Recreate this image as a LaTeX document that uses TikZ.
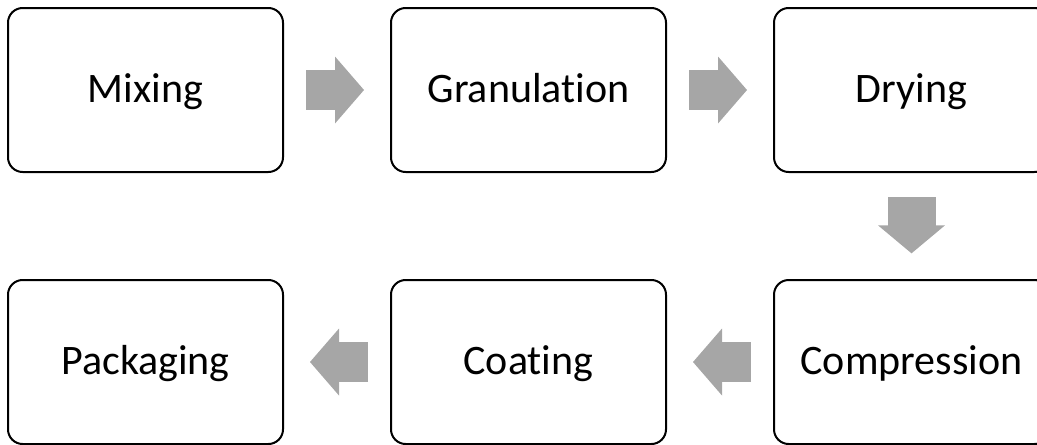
\documentclass[tikz,border=0pt]{standalone}
\usepackage{fontspec}
\setmainfont{Carlito}[Ligatures=NoCommon]
\usepackage{tikz}
\usetikzlibrary{positioning,arrows.meta}

\definecolor{flowgray}{RGB}{166,166,166}

\begin{document}
\begin{tikzpicture}
\tikzstyle{stage}=[rectangle, rounded corners=11pt, draw=black, line width=1.5pt, outer sep=0pt, minimum width=206.25pt, minimum height=123pt, text height=26pt, text depth=8pt, font=\fontsize{31.5}{38}\selectfont, node distance=81pt and 81pt]
% body first, head drawn on top of it so the two overlap a little
\tikzstyle{flow}=[flowgray, line width=30pt, shorten <=17.25pt, shorten >=40.5pt, postaction={draw, line width=0.2pt, shorten <=20pt, shorten >=20.25pt, -{Triangle[length=21.75pt, width=50.25pt, line width=0pt]}}]
\tikzstyle{flowdown}=[flowgray, line width=36pt, shorten <=18.75pt, shorten >=39.5pt, postaction={draw, line width=0.2pt, shorten <=20pt, shorten >=20pt, -{Triangle[length=21pt, width=50.25pt, line width=0pt]}}]
\useasboundingbox (0,0) rectangle (777.75pt,-333pt);

  \node[stage] (mixing) at (109.125pt,-67.5pt) {Mixing};
  \node[stage] (granulation) [right=of mixing] {Granulation};
  \node[stage] (drying) [right=of granulation] {Drying};

  \node[stage] (compression) [below=of drying] {Compression};
  \node[stage] (coating) [left=of compression] {Coating};
  \node[stage] (packaging) [left=of coating] {Packaging};

  \path
 (mixing) edge [flow] (granulation)
(granulation) edge [flow] (drying)
(drying) edge [flowdown] (compression)
(compression) edge [flow] (coating)
(coating) edge [flow] (packaging);
\end{tikzpicture}
\end{document}
